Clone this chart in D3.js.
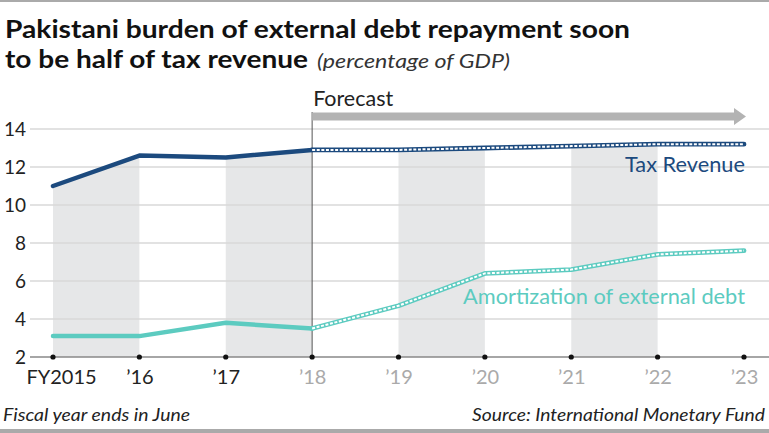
<!DOCTYPE html>
<html><head><meta charset="utf-8">
<script src="https://cdn.jsdelivr.net/npm/d3@7"></script>
<style>body{margin:0;background:#fff;}svg{display:block;font-family:Lato,"Open Sans",sans-serif;}</style>
</head><body>
<svg id="c" width="769" height="433"></svg>
<script>
const years = ["FY2015","'16","'17","'18","'19","'20","'21","'22","'23"];
const xLabels = ["FY2015","\u201916","\u201917","\u201918","\u201919","\u201920","\u201921","\u201922","\u201923"];
const taxRevenue = [11.0,12.6,12.5,12.9,12.9,13.0,13.1,13.2,13.2];
const amortization = [3.1,3.1,3.8,3.5,4.7,6.4,6.6,7.4,7.6];
const yTicks = [2,4,6,8,10,12,14];
const forecastStart = 3;
const bands = [[0,1],[2,3],[4,5],[6,7]];

const svg = d3.select("#c");
const x = d3.scalePoint().domain(d3.range(years.length)).range([53,744]);
const y = d3.scaleLinear().domain([2,14]).range([357,129]);

function fitText(sel, w){ sel.attr("textLength", w).attr("lengthAdjust","spacingAndGlyphs"); return sel; }

// top rule
svg.append("rect").attr("x",0).attr("y",0).attr("width",769).attr("height",2).attr("fill","#aaa");
// bottom rule
svg.append("rect").attr("x",0).attr("y",429).attr("width",769).attr("height",4).attr("fill","#aaa");

// title
fitText(svg.append("text").attr("x",5).attr("y",38).attr("font-size",25).attr("font-weight",700).attr("fill","#111")
  .text("Pakistani burden of external debt repayment soon"), 625);
fitText(svg.append("text").attr("x",5).attr("y",68).attr("font-size",25).attr("font-weight",700).attr("fill","#111")
  .text("to be half of tax revenue"), 303);
fitText(svg.append("text").attr("x",317).attr("y",68).attr("font-size",19).attr("font-style","italic").attr("fill","#333")
  .text("(percentage of GDP)"), 193);

// bands under tax line
const area = d3.area().x(d=>x(d.i)).y0(y(2)).y1(d=>y(d.v));
bands.forEach(([a,b])=>{
  const pts = d3.range(a,b+1).map(i=>({i,v:taxRevenue[i]}));
  svg.append("path").attr("d",area(pts)).attr("fill","#e6e7e8");
});

// grid
svg.append("g").selectAll("line").data(yTicks.filter(d=>d>2)).join("line")
  .attr("x1",30).attr("x2",769).attr("y1",d=>y(d)).attr("y2",d=>y(d))
  .attr("stroke","#d9d9d9").attr("stroke-width",1.3);
// baseline
svg.append("line").attr("x1",30).attr("x2",769).attr("y1",y(2)).attr("y2",y(2)).attr("stroke","#888").attr("stroke-width",1.3);

// y axis labels
const yAxis = d3.axisLeft(y).tickValues(yTicks).tickSize(0).tickPadding(0);
const ga = svg.append("g").attr("transform","translate(26,0)").call(yAxis);
ga.select(".domain").remove();
ga.selectAll("text").attr("font-size",19).attr("fill","#222").attr("font-family","Lato,sans-serif").attr("dy","0.36em");

// x axis labels
const xAxis = d3.axisBottom(x).tickFormat(i=>xLabels[i]).tickSize(0).tickPadding(0);
const gx = svg.append("g").attr("transform","translate(0,370)").call(xAxis);
gx.select(".domain").remove();
gx.selectAll("text").attr("font-size",20).attr("font-family","Lato,sans-serif")
  .attr("fill",(d)=>d>=forecastStart?"#aaa":"#222");
gx.selectAll(".tick").filter(d=>d===0).select("text").attr("dx",8);

// forecast line & arrow
svg.append("line").attr("x1",x(forecastStart)).attr("x2",x(forecastStart)).attr("y1",112).attr("y2",y(2)).attr("stroke","#555").attr("stroke-width",1);
const ax0 = x(forecastStart), ax1 = 746;
svg.append("path").attr("d",`M${ax0},112.5 L${ax1-12},112.5 L${ax1-12},108 L${ax1},116.5 L${ax1-12},125 L${ax1-12},120.5 L${ax0},120.5 Z`).attr("fill","#b3b3b3");
fitText(svg.append("text").attr("x",ax0+1).attr("y",106).attr("font-size",21).attr("fill","#222").text("Forecast"), 80);

// lines
const line = d3.line().x(d=>x(d.i)).y(d=>y(d.v));
function drawSeries(vals,color){
  const all = vals.map((v,i)=>({i,v}));
  const hist = all.slice(0,forecastStart+1);
  const fc = all.slice(forecastStart);
  svg.append("path").attr("d",line(hist)).attr("fill","none").attr("stroke",color).attr("stroke-width",4.5).attr("stroke-linejoin","round").attr("stroke-linecap","round");
  svg.append("path").attr("d",line(fc)).attr("fill","none").attr("stroke",color).attr("stroke-width",4.8).attr("stroke-linejoin","round").attr("stroke-linecap","round");
  svg.append("path").attr("d",line(fc)).attr("fill","none").attr("stroke","#fff").attr("stroke-width",2).attr("stroke-dasharray","3,1.6");
}
drawSeries(taxRevenue,"#1c4a7e");
drawSeries(amortization,"#5ccbc0");

// dots
svg.append("g").selectAll("circle").data(d3.range(years.length)).join("circle")
  .attr("cx",d=>x(d)).attr("cy",y(2)).attr("r",2.6).attr("fill","#111");

// series labels
fitText(svg.append("text").attr("x",625).attr("y",172).attr("font-size",21).attr("fill","#1c4a7e").text("Tax Revenue"), 120);
fitText(svg.append("text").attr("x",463).attr("y",304).attr("font-size",21).attr("fill","#5ccbc0").text("Amortization of external debt"), 282);

// footer
fitText(svg.append("text").attr("x",3).attr("y",421).attr("font-size",17).attr("font-style","italic").attr("fill","#222").text("Fiscal year ends in June"), 187);
fitText(svg.append("text").attr("x",472).attr("y",421).attr("font-size",17).attr("font-style","italic").attr("fill","#222").text("Source: International Monetary Fund"), 293);
</script>
</body></html>
